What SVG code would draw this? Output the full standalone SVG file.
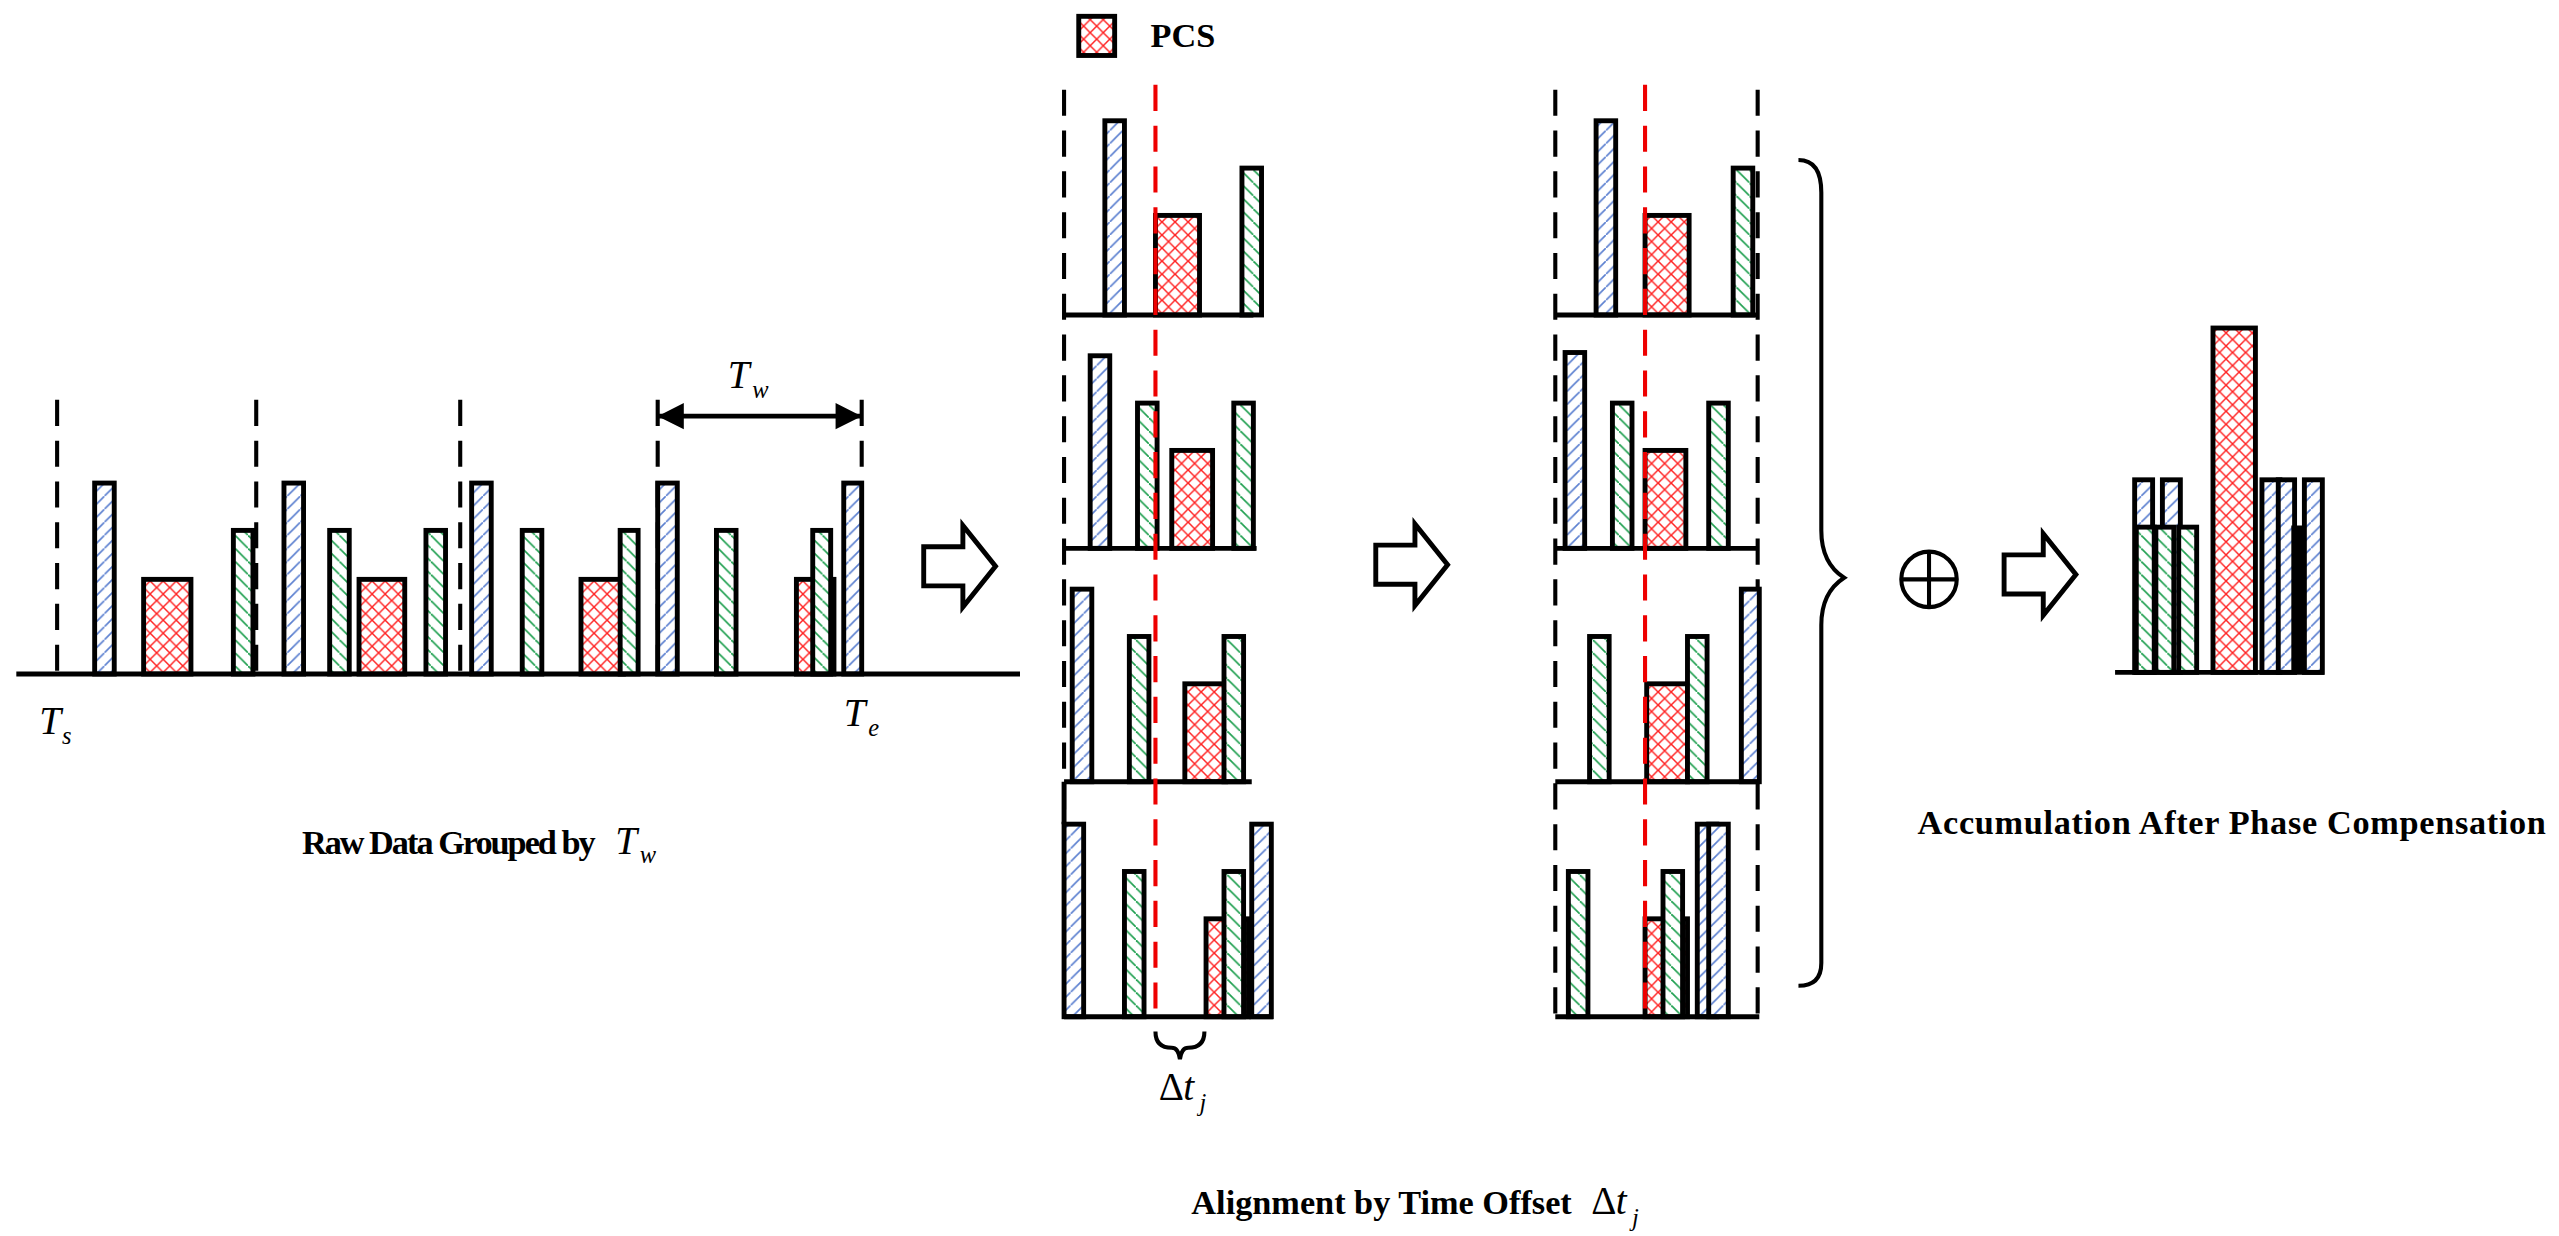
<svg xmlns="http://www.w3.org/2000/svg" width="2559" height="1236" viewBox="0 0 2559 1236">
<defs>
<pattern id="pb" patternUnits="userSpaceOnUse" width="8" height="8"><rect width="8" height="8" fill="#fff"/><path d="M0 8L8 0" stroke="#5b7fd0" stroke-width="1"/></pattern>
<pattern id="pg" patternUnits="userSpaceOnUse" width="8" height="8"><rect width="8" height="8" fill="#fff"/><path d="M0 0L8 8" stroke="#1fa050" stroke-width="1"/></pattern>
<pattern id="pr" patternUnits="userSpaceOnUse" width="8" height="8"><rect width="8" height="8" fill="#fff"/><path d="M0 0L8 8M0 8L8 0" stroke="#ff2020" stroke-width="0.9"/></pattern>
<style>
.b{fill:url(#pb);stroke:#000;stroke-width:3}
.g{fill:url(#pg);stroke:#000;stroke-width:3}
.r{fill:url(#pr);stroke:#000;stroke-width:3}
.k{fill:#000;stroke:#000;stroke-width:2}
.ax{stroke:#000;stroke-width:3;fill:none}
.dk{stroke:#000;stroke-width:2.5;stroke-dasharray:16 9;fill:none}
.dr{stroke:#e00;stroke-width:2.5;stroke-dasharray:16 9;fill:none}
.ar{fill:#fff;stroke:#000;stroke-width:3}
.cap{font-family:"Liberation Serif",serif;font-weight:bold;font-size:21px}
.it{font-family:"Liberation Serif",serif;font-style:italic;font-size:24px}
.up{font-family:"Liberation Serif",serif;font-size:24px}
.sb{font-family:"Liberation Serif",serif;font-style:italic;font-size:15px}
</style>
</defs>
<g transform="scale(1.632)">
<g id="raw">
<path class="dk" d="M35 245V413M157 245V413M282 245V413M403 245V413M528 245V413"/>
<rect class="b" x="58" y="296" width="12" height="117"/>
<rect class="r" x="88" y="355" width="29" height="58"/>
<rect class="g" x="143" y="325" width="12" height="88"/>
<rect class="b" x="174" y="296" width="12" height="117"/>
<rect class="g" x="202" y="325" width="12" height="88"/>
<rect class="r" x="220" y="355" width="28" height="58"/>
<rect class="g" x="261" y="325" width="12" height="88"/>
<rect class="b" x="289" y="296" width="12" height="117"/>
<rect class="g" x="320" y="325" width="12" height="88"/>
<rect class="r" x="356" y="355" width="26" height="58"/>
<rect class="g" x="380" y="325" width="11" height="88"/>
<rect class="b" x="403" y="296" width="12" height="117"/>
<rect class="g" x="439" y="325" width="12" height="88"/>
<rect class="r" x="488" y="355" width="23" height="58"/>
<rect class="g" x="498" y="325" width="11" height="88"/>
<rect class="b" x="517" y="296" width="11" height="117"/>
<path class="ax" d="M10 413H625"/>
<path d="M403 255H528" stroke="#000" stroke-width="3"/>
<path d="M403 255l16-8v16zM528 255l-16-8v16z" fill="#000"/>
<text class="it" x="446" y="238">T</text><text class="sb" x="461" y="244">w</text>
<text class="it" x="24" y="450">T</text><text class="sb" x="38" y="456">s</text>
<text class="it" x="517" y="445">T</text><text class="sb" x="532" y="451">e</text>
<text class="cap" x="185" y="523" textLength="180">Raw Data Grouped by</text>
<text class="it" x="377" y="523">T</text><text class="sb" x="392" y="529">w</text>
</g>
<g id="arrows">
<path class="ar" d="M566 335H590V322L610 347L590 372V359H566Z"/>
<path class="ar" d="M843 334H867V321L887 346L867 371V358H843Z"/>
<path class="ar" d="M1228 340H1252V327L1272 352L1252 377V364H1228Z"/>
</g>
<g id="legend">
<rect class="r" x="661" y="10" width="22" height="24"/>
<text class="cap" x="705" y="29" font-size="20">PCS</text>
</g>
<g id="align">
<path class="dk" d="M652 55V623"/>
<rect class="b" x="677" y="74" width="12" height="119"/>
<rect class="r" x="708" y="132" width="27" height="61"/>
<rect class="g" x="761" y="103" width="12" height="90"/>
<path class="ax" d="M652 193H768"/>
<rect class="b" x="668" y="218" width="12" height="118"/>
<rect class="g" x="697" y="247" width="12" height="89"/>
<rect class="r" x="718" y="276" width="25" height="60"/>
<rect class="g" x="756" y="247" width="12" height="89"/>
<path class="ax" d="M652 336H770"/>
<rect class="b" x="657" y="361" width="12" height="118"/>
<rect class="g" x="692" y="390" width="12" height="89"/>
<rect class="r" x="726" y="419" width="25" height="60"/>
<rect class="g" x="750" y="390" width="12" height="89"/>
<path class="ax" d="M652 479H767"/>
<rect class="b" x="652" y="505" width="12" height="118"/>
<rect class="g" x="689" y="534" width="12" height="89"/>
<rect class="r" x="739" y="563" width="26" height="60"/>
<rect class="g" x="750" y="534" width="12" height="89"/>
<rect class="b" x="767" y="505" width="12" height="118"/>
<path class="ax" d="M652 479V505M652 623H780"/>
<path class="dr" d="M708 52V623"/>
<path d="M708 632q0 10 10 10q4 0 5 7q1-7 5-7q10 0 10-10" fill="none" stroke="#000" stroke-width="2.5"/>
<text class="up" x="710" y="674">Δ</text><text class="it" x="725" y="674">t</text><text class="sb" x="735" y="681">j</text>
<text class="cap" x="730" y="744">Alignment by Time Offset</text>
<text class="up" x="975" y="744">Δ</text><text class="it" x="990" y="744">t</text><text class="sb" x="1000" y="751">j</text>
</g>
<g id="aligned">
<path class="dk" d="M953 55V623M1077 55V623"/>
<rect class="b" x="978" y="74" width="12" height="119"/>
<rect class="r" x="1008" y="132" width="27" height="61"/>
<rect class="g" x="1062" y="103" width="12" height="90"/>
<path class="ax" d="M953 193H1077"/>
<rect class="b" x="959" y="216" width="12" height="120"/>
<rect class="g" x="988" y="247" width="12" height="89"/>
<rect class="r" x="1008" y="276" width="25" height="60"/>
<rect class="g" x="1047" y="247" width="12" height="89"/>
<path class="ax" d="M953 336H1077"/>
<rect class="g" x="974" y="390" width="12" height="89"/>
<rect class="r" x="1009" y="419" width="25" height="60"/>
<rect class="g" x="1034" y="390" width="12" height="89"/>
<rect class="b" x="1067" y="361" width="11" height="118"/>
<path class="ax" d="M953 479H1078"/>
<rect class="g" x="961" y="534" width="12" height="89"/>
<rect class="r" x="1008" y="563" width="26" height="60"/>
<rect class="g" x="1019" y="534" width="12" height="89"/>
<rect class="b" x="1040" y="505" width="12" height="118"/>
<rect class="b" x="1047" y="505" width="12" height="118"/>
<path class="ax" d="M953 623H1078"/>
<path class="dr" d="M1008 52V623"/>
</g>
<g id="sum">
<path d="M1102 98q14 0 14 20v207q0 20 14 29q-14 9-14 29v207q0 14-14 14" fill="none" stroke="#000" stroke-width="2.5"/>
<circle cx="1182" cy="355" r="17" fill="none" stroke="#000" stroke-width="2.5"/>
<path d="M1165 355H1199M1182 338V372" stroke="#000" stroke-width="2.5"/>
</g>
<g id="result">
<rect class="b" x="1308" y="294" width="11" height="118"/>
<rect class="b" x="1325" y="294" width="11" height="118"/>
<rect class="g" x="1309" y="323" width="11" height="89"/>
<rect class="g" x="1321" y="323" width="11" height="89"/>
<rect class="g" x="1335" y="323" width="11" height="89"/>
<rect class="r" x="1356" y="201" width="26" height="211"/>
<rect class="b" x="1386" y="294" width="11" height="118"/>
<rect class="b" x="1396" y="294" width="10" height="118"/>
<rect class="k" x="1405" y="323" width="5" height="89"/>
<rect class="b" x="1412" y="294" width="11" height="118"/>
<path class="ax" d="M1296 412H1424"/>
<text class="cap" x="1175" y="511" textLength="385">Accumulation After Phase Compensation</text>
</g>
</g>
</svg>
